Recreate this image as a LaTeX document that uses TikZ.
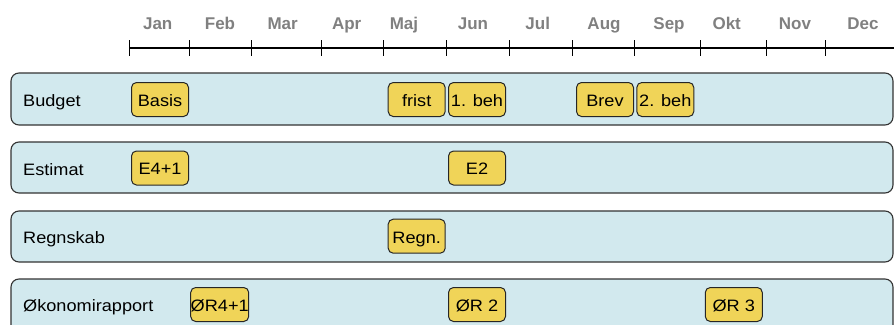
\documentclass[tikz,border=0pt]{standalone}
\usepackage{fontspec}
\setmainfont{Liberation Sans}[FakeStretch=1.1]
\newfontfamily\monthfam{Liberation Sans}
\begin{document}
\begin{tikzpicture}[x=1pt,y=-1pt,
  lane/.style={draw=black!80,line width=1.1pt,fill=lanefill,rounded corners=8pt},
  lanelabel/.style={anchor=base west,inner sep=0pt,font=\fontsize{16.5}{18}\selectfont},
  ev/.style={draw=black!85,line width=1pt,fill=evfill,rounded corners=5pt,minimum width=57pt,minimum height=34pt,inner sep=0pt,text height=17pt,text depth=3.4pt,font=\fontsize{16.5}{18}\selectfont},
  month/.style={text=black!50,font=\monthfam\bfseries\fontsize{17}{19}\selectfont,inner sep=0pt,anchor=base},
  tick/.style={line width=1pt}]
\definecolor{lanefill}{HTML}{D2E9EE}
\definecolor{evfill}{HTML}{F0D458}
\useasboundingbox (0,0) rectangle (894,324);
% timeline
\coordinate (tl0) at (129,48);
\coordinate (tl1) at (894,48);
\draw[line width=1.6pt] (tl0) -- (tl1);
\foreach \x [count=\i] in {129,189,251,321,383,446,509,572,634,700,766,825}{
  \coordinate (t\i) at (\x,40);
  \draw[tick] (t\i) -- ++(0,16);
}
\foreach \x/\m [count=\i] in {157.7/Jan,220/Feb,282.7/Mar,346.7/Apr,404/Maj,473/Jun,537.7/Jul,604/Aug,669/Sep,726.7/Okt,795/Nov,863/Dec}{
  \node[month] (m\i) at (\x,29) {\m};
}
% lanes
\draw[lane] (11,73) rectangle (893,125);
\node[lanelabel] (lb) at (23,106) {Budget};
\draw[lane] (11,142) rectangle (893,193);
\node[lanelabel] (le) at (23,175) {Estimat};
\draw[lane] (11,211) rectangle (893,262);
\node[lanelabel] (lr) at (23,243.3) {Regnskab};
\draw[lane] (11,279) rectangle (893,340);
\node[lanelabel] (lo) at (23,311.7) {Økonomirapport};
% events
\node[ev] (basis) at (160,99.5) {Basis};
\node[ev] (frist) at (416.7,99.5) {frist};
\node[ev] (beh1) at (477,99.5) {1. beh};
\node[ev] (brev) at (605,99.5) {Brev};
\node[ev] (beh2) at (665.3,99.5) {2. beh};
\node[ev] (e41) at (160,168) {E4+1};
\node[ev] (e2) at (477,168) {E2};
\node[ev] (regn) at (416.7,236.2) {Regn.};
\node[ev] (or41) at (219.7,304.5) {ØR4+1};
\node[ev] (or2) at (477,304.5) {ØR 2};
\node[ev] (or3) at (733.8,304.5) {ØR 3};
\end{tikzpicture}
\end{document}
